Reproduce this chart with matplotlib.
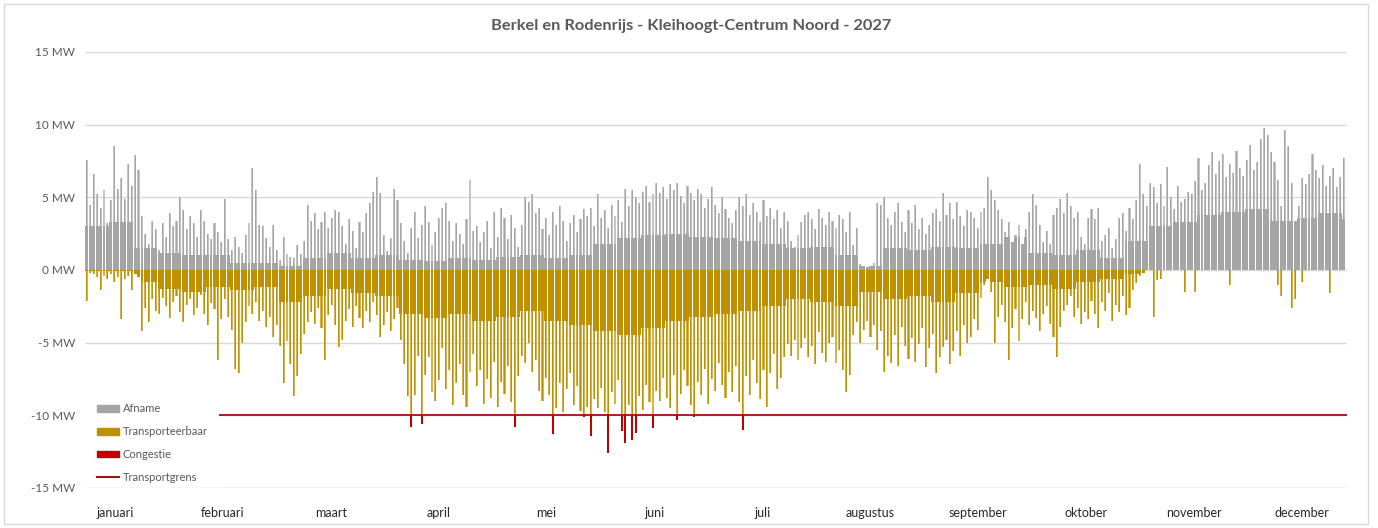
import numpy as np
import matplotlib
matplotlib.use("Agg")
import matplotlib.pyplot as plt
from matplotlib.patches import Patch, Rectangle
from matplotlib.lines import Line2D

# ---------------- data ----------------
title = "Berkel en Rodenrijs - Kleihoogt-Centrum Noord - 2027"
months = ["januari", "februari", "maart", "april", "mei", "juni", "juli",
          "augustus", "september", "oktober", "november", "december"]
yticks = [-15, -10, -5, 0, 5, 10, 15]

# daily peak of Afname (MW)
afname_peak = [
    7.6, 4.5, 6.6, 5.2, 4.3, 5.5, 3.2, 4.8, 8.5, 5.6, 6.3, 4.9, 7.3, 5.8, 7.9, 6.9,
    3.7, 2.5, 1.8, 3.4, 2.8, 1.4, 3.2, 2.3, 3.9, 3.0, 3.4, 5.0, 4.1, 2.8, 3.7, 3.2,
    2.3, 4.1, 3.4, 2.5, 2.1, 3.2, 2.6, 1.9,
    4.9, 2.1, 1.4, 2.3, 1.6, 1.2, 2.4, 3.2, 7.0, 5.5, 3.1, 3.0, 2.2, 1.6, 3.1, 1.4,
    0.7, 2.3, 1.1, 0.9, 0.8, 1.7, 1.1, 2.0, 4.5, 3.4, 3.9, 2.8, 3.3, 4.0, 2.9, 3.6, 4.1,
    4.0, 3.0, 1.8, 3.5, 2.7, 1.5, 3.3, 2.6, 3.9, 4.6,
    5.4, 6.4, 5.3, 2.4, 1.3, 2.2, 5.6, 4.8, 3.2, 2.0,
    1.2, 2.9, 4.0, 2.2, 3.1, 4.4, 3.3, 1.7, 2.6, 3.6,
    4.3, 4.6, 3.4, 2.0, 3.2, 2.5, 1.8, 3.5, 6.2, 2.7,
    3.0, 1.9, 2.6, 3.4, 1.5, 4.0, 2.3, 4.3, 3.6, 2.1,
    3.8, 2.9, 1.6, 3.1, 5.0, 4.7, 5.2, 3.9, 4.3, 2.8,
    3.6, 2.4, 4.0, 3.1, 4.4, 3.4, 2.0, 3.2, 3.8, 2.6, 3.5, 4.2, 3.7,
    4.3, 3.0, 5.2, 3.6, 4.1, 2.9, 4.5, 3.7, 4.8, 3.3,
    5.6, 4.4, 5.5, 5.0, 4.6, 5.4, 5.8, 4.7, 5.2, 6.0,
    5.3, 5.7, 4.9, 5.9, 5.5, 6.0, 5.1, 4.6, 5.8, 5.3,
    4.8, 5.6, 5.2, 4.3, 4.9, 5.7, 4.5, 3.9, 5.0, 4.2,
    3.6, 3.2, 4.1, 5.0, 4.4, 5.2, 3.8, 4.6, 4.0, 3.3,
    4.8, 3.7, 4.3, 3.5, 4.1, 2.9, 4.0, 3.4, 2.0, 1.6,
    2.4, 3.3, 3.8, 4.0, 3.5, 2.8, 4.2, 3.6, 3.1, 4.0, 3.4, 2.9, 3.8,
    3.5, 2.6, 4.0, 1.7, 2.9, 0.4, 0.3, 0.2, 0.3, 0.5,
    4.6, 4.5, 5.0, 3.6, 3.1, 4.0, 4.6, 3.3, 2.6, 4.1,
    3.2, 4.5, 2.8, 3.6, 2.5, 3.1, 3.9, 4.2, 3.4, 5.3,
    3.8, 4.6, 3.5, 4.7, 3.7, 3.0, 4.1, 4.0, 3.6, 2.9,
    4.0, 4.3, 6.4, 5.5, 4.8, 4.1, 3.5, 2.6, 3.3, 1.9,
    2.4, 3.1, 1.8, 2.8, 4.0, 5.2, 4.5, 3.1, 1.9, 2.7,
    1.8, 3.8, 4.3, 4.9, 3.9, 5.3, 4.4, 3.6, 4.0, 2.3, 1.8, 3.6, 4.2,
    3.5, 4.3, 2.0, 2.4, 2.9, 1.5, 2.1, 3.6, 3.9, 2.7,
    4.3, 3.5, 4.8, 7.3, 5.2, 4.4, 6.0, 5.7, 4.6, 5.9,
    4.4, 7.1, 5.0, 4.2, 5.8, 4.7, 4.9, 5.4, 5.2, 6.1,
    7.7, 5.5, 6.0, 7.2, 8.1, 6.6, 7.5, 8.0, 6.4, 7.3,
    6.7, 8.2, 7.0, 6.5, 7.6, 8.6, 6.9, 7.4, 9.0, 9.8,
    9.3, 8.1, 7.4, 6.2, 4.4, 9.6, 8.5, 6.0, 3.4, 4.4,
    6.3, 5.9, 6.6, 8.0, 6.9, 6.3, 7.2, 5.8, 6.5, 7.0, 5.7, 6.4, 7.7,
]

# weekly typical (dense) level of Afname (MW)
afname_body_week = [
    3.0, 3.3, 1.5, 1.2, 1.0, 1.0, 0.5, 0.5, 0.3, 0.8, 1.2,
    0.8, 1.0, 0.7, 0.6, 0.8, 0.7, 0.9, 1.0, 0.8, 1.0,
    1.8, 2.2, 2.4, 2.5, 2.3, 2.2, 2.0, 1.8, 1.5, 1.6, 1.0, 0.3,
    1.5, 1.4, 1.6, 1.5, 1.8, 2.3, 1.2, 1.0, 1.4, 0.8,
    2.0, 3.0, 3.3, 3.8, 4.0, 4.2, 3.4, 3.6, 3.9, 3.5,
]

# daily peak of transporteerbare teruglevering (MW, magnitude)
teruglevering_peak = [
    2.1, 0.2, 0.3, 0.5, 1.4, 0.4, 0.6, 0.3, 0.8, 0.5, 3.4, 0.6, 0.4, 1.4, 0.3, 0.5,
    4.2, 2.6, 3.6, 2.0, 2.8, 3.0, 1.9, 2.5, 3.3, 2.2, 1.8, 2.9, 3.6, 2.4, 2.0, 3.1,
    2.6, 1.7, 3.0, 3.8, 2.3, 2.7, 6.2, 3.4,
    2.0, 3.2, 4.1, 6.8, 7.1, 5.0, 3.6, 2.5, 3.0, 2.2, 3.5, 2.8, 3.9, 3.2, 4.6, 3.8,
    5.2, 7.8, 4.9, 6.5, 8.7, 7.3, 5.8, 4.4, 3.6, 2.9, 3.7, 2.6, 4.0, 6.2, 3.1, 2.4, 3.8,
    5.3, 4.8, 3.5, 2.7, 3.9, 2.5, 3.3, 4.0, 2.8, 3.6,
    2.2, 3.1, 4.6, 3.8, 2.9, 4.2, 3.4, 2.6, 4.8, 6.5,
    8.7, 10.0, 8.6, 5.9, 10.0, 7.2, 6.0, 8.4, 9.0, 7.6,
    5.4, 8.2, 6.9, 9.3, 7.8, 6.5, 8.6, 9.4, 7.0, 5.8,
    8.0, 6.9, 9.2, 7.5, 8.8, 6.3, 9.4, 7.7, 8.5, 6.6,
    9.1, 10.0, 7.3, 5.9, 6.4, 5.0, 7.0, 6.2, 8.3, 9.0,
    7.4, 8.6, 10.0, 9.5, 7.8, 9.8, 8.2, 7.1, 9.3, 8.0, 9.7, 10.0, 9.4,
    10.0, 8.9, 9.5, 8.1, 9.8, 10.0, 8.4, 9.2, 7.6, 10.0,
    10.0, 9.3, 10.0, 10.0, 8.7, 9.6, 7.9, 9.1, 10.0, 8.3,
    9.0, 7.4, 8.8, 9.5, 7.2, 10.0, 8.5, 6.9, 8.0, 9.3,
    10.0, 7.7, 8.6, 6.8, 9.2, 7.5, 8.3, 6.4, 7.9, 8.8,
    7.0, 8.4, 6.6, 9.1, 10.0, 7.3, 8.6, 6.2, 7.8, 8.9,
    6.9, 9.4, 7.1, 5.8, 8.2, 7.4, 6.0, 5.1, 5.9, 4.8,
    6.2, 5.4, 4.7, 6.0, 5.2, 6.5, 4.3, 5.7, 6.3, 5.0, 4.6, 6.4, 5.5,
    6.9, 8.4, 7.2, 4.5, 3.6, 5.0, 4.1, 3.5, 4.6, 3.8,
    5.5, 4.2, 7.0, 5.9, 6.4, 4.5, 6.6, 3.9, 5.2, 6.1,
    4.7, 6.3, 5.1, 4.0, 6.7, 5.4, 4.4, 7.1, 6.0, 5.3,
    4.8, 6.5, 5.6, 4.2, 5.9, 3.8, 5.0, 4.6, 3.4, 4.1,
    1.9, 1.0, 0.6, 1.5, 5.0, 3.2, 2.4, 3.6, 6.2, 4.0,
    2.7, 4.9, 3.4, 2.2, 3.8, 2.8, 3.3, 4.2, 3.0, 2.5,
    3.7, 4.6, 6.0, 3.9, 2.8, 2.4, 1.8, 3.2, 2.6, 3.7, 2.9, 3.4, 2.1,
    3.0, 4.0, 2.2, 2.8, 1.6, 3.5, 2.4, 2.9, 1.8, 3.1,
    2.6, 1.4, 0.9, 0.4, 0.2, 0.0, 0.0, 3.2, 0.7, 0.6,
    0.0, 0.0, 0.0, 0.0, 0.0, 0.0, 1.5, 0.0, 0.0, 1.5,
    0.0, 0.0, 0.0, 0.0, 0.0, 0.0, 0.0, 0.0, 0.0, 1.0,
    0.0, 0.0, 0.0, 0.0, 0.0, 0.0, 0.0, 0.0, 0.0, 0.0,
    0.0, 0.0, 0.0, 1.0, 1.8, 0.0, 0.0, 2.6, 2.0, 0.0,
    0.8, 0.0, 0.0, 0.0, 0.0, 0.0, 0.0, 0.0, 1.6, 0.0, 0.0, 0.0, 0.0,
]

# weekly typical (dense) level of teruglevering (MW, magnitude)
teruglevering_body_week = [
    0.1, 0.1, 0.8, 1.3, 1.5, 1.2, 1.4, 1.2, 2.2, 1.8, 1.3,
    1.6, 1.8, 3.0, 3.3, 3.0, 3.5, 3.2, 2.8, 3.5, 3.8,
    4.2, 4.5, 4.0, 3.5, 3.2, 3.0, 2.8, 2.5, 2.0, 2.2, 2.5, 1.5,
    2.0, 1.8, 2.2, 1.6, 0.8, 1.2, 1.0, 1.3, 0.8, 0.6, 0.3,
    0.0, 0.0, 0.0, 0.0, 0.0, 0.0, 0.0, 0.0, 0.0,
]

# congestion events: day of year and lowest value (MW)
congestie_dag = [94, 97, 124, 135, 144, 146, 151, 155, 156, 158, 159, 164, 171, 176, 190]
congestie_mw = [-10.8, -10.6, -10.8, -11.3, -10.1, -11.4, -12.6, -11.1, -11.9,
                -11.7, -11.2, -10.9, -10.3, -10.1, -11.0]

transportgrens = -10.0

# ---------------- style ----------------
C_GRAY = "#A5A5A5"
C_GRAY_L = "#C4C4C4"
C_GOLD = "#BF9000"
C_GOLD_L = "#D6B24A"
C_RED = "#C00000"
C_LINE = "#A50F15"
C_GRID = "#D9D9D9"
C_TXT = "#595959"

plt.rcParams["font.family"] = ["Lato", "DejaVu Sans"]

W, H = 1378, 528
fig = plt.figure(figsize=(W / 100, H / 100), dpi=100)
fig.patch.set_facecolor("white")
ax = fig.add_axes([85 / W, 1 - 488 / H, (1347 - 85) / W, (488 - 52) / H])

ndays = len(afname_peak)
days = np.arange(ndays) + 0.5
week_of_day = np.arange(ndays) // 7

afp = np.array(afname_peak)
tlp = np.minimum(np.array(teruglevering_peak), -transportgrens)
af_body = np.minimum(np.array(afname_body_week)[week_of_day], afp)
tl_body = np.minimum(np.array(teruglevering_body_week)[week_of_day], tlp)

# daily peaks (thin, light)
ax.bar(days, afp, width=0.6, color=C_GRAY_L, linewidth=0, zorder=2)
ax.bar(days, -tlp, width=0.6, color=C_GOLD_L, linewidth=0, zorder=2)
ax.bar(days, afp, width=0.28, color=C_GRAY, linewidth=0, zorder=2.5)
ax.bar(days, -tlp, width=0.28, color=C_GOLD, linewidth=0, zorder=2.5)
# dense typical level
ax.bar(days, af_body, width=0.85, color=C_GRAY, linewidth=0, zorder=3)
ax.bar(days, -tl_body, width=0.85, color=C_GOLD, linewidth=0, zorder=3)
# congestion
cd = np.array(congestie_dag) + 0.5
ax.bar(cd, np.array(congestie_mw) - transportgrens, bottom=transportgrens,
       width=0.55, color=C_RED, linewidth=0, zorder=3)

ax.axhline(transportgrens, color=C_LINE, lw=1.3, zorder=4)

ax.set_xlim(0, ndays + 0.5)
ax.set_ylim(-15, 15)
ax.set_yticks(yticks)
ax.set_yticklabels([f"{v} MW" for v in yticks])
for v in yticks:
    ax.axhline(v, color=C_GRID, lw=1, zorder=0.5)
ax.axhline(yticks[0], color=C_GRID, lw=1, zorder=11)
for s in ax.spines.values():
    s.set_visible(False)
ax.tick_params(axis="y", length=0, pad=7, labelsize=8.5, labelcolor=C_TXT)

# month labels, evenly spaced
px_per_day = (1347 - 85) / (ndays + 0.5)
first = (115 - 85) / px_per_day
step = 107.9 / px_per_day
ax.set_xticks(first + step * np.arange(len(months)))
ax.set_xticklabels(months)
ax.tick_params(axis="x", length=0, pad=14, labelsize=9, labelcolor="#262626")

fig.text(691 / W, 1 - 26 / H, title, ha="center", va="center",
         fontsize=11.8, fontweight="bold", color=C_TXT)

handles = [Patch(color=C_GRAY, label="Afname"),
           Patch(color=C_GOLD, label="Transporteerbaar"),
           Patch(color=C_RED, label="Congestie"),
           Line2D([0], [0], color=C_LINE, lw=1.5, label="Transportgrens")]
leg = ax.legend(handles=handles, loc="lower left", bbox_to_anchor=(0.0, -0.015),
                frameon=True, facecolor="white", edgecolor="none", framealpha=1,
                fontsize=8, handlelength=2.05, handleheight=0.55, handletextpad=0.3,
                labelspacing=1.07, borderpad=1.05, borderaxespad=0.0, fancybox=False)
for t in leg.get_texts():
    t.set_color(C_TXT)
leg.set_zorder(10)

fig.add_artist(Rectangle((4 / W, 4 / H), 1364 / W, 520 / H, transform=fig.transFigure,
                         fill=False, edgecolor=C_GRID, lw=1))

fig.savefig("out.png", dpi=100)
